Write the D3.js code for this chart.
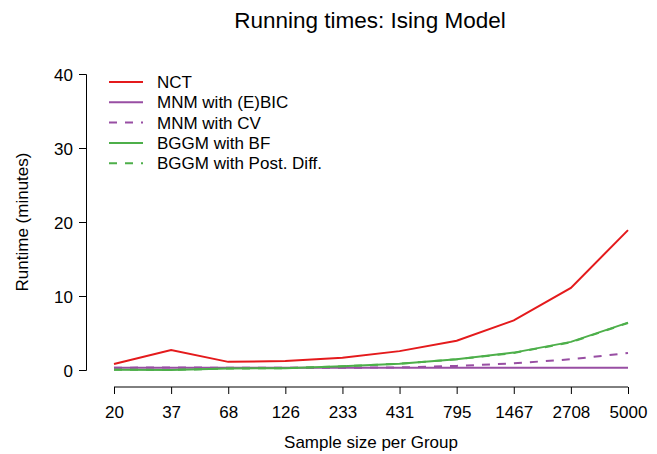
<!DOCTYPE html>
<html>
<head>
<meta charset="utf-8">
<script src="https://cdn.jsdelivr.net/npm/d3@7"></script>
<style>
  body { margin: 0; background: #fff; }
  text { font-family: "Liberation Sans", Arial, sans-serif; fill: #000; }
</style>
</head>
<body>
<div id="chart"></div>
<script>
// Data
var sampleSizes = ["20", "37", "68", "126", "233", "431", "795", "1467", "2708", "5000"];
var yTicks = [0, 10, 20, 30, 40];
var nct       = [0.8, 2.7, 1.1, 1.2, 1.65, 2.55, 3.95, 6.7, 11.1, 18.9];
var mnmEbic   = [0.3, 0.3, 0.3, 0.3, 0.3, 0.3, 0.3, 0.3, 0.3, 0.3];
var mnmCv     = [0.3, 0.35, 0.3, 0.3, 0.3, 0.35, 0.55, 0.9, 1.45, 2.3];
var bggmBf    = [0.05, 0.0, 0.2, 0.25, 0.5, 0.85, 1.45, 2.35, 3.8, 6.4];
var bggmPost  = [0.05, 0.0, 0.2, 0.25, 0.5, 0.85, 1.45, 2.3, 3.75, 6.35];

var seriesNames = ["NCT", "MNM with (E)BIC", "MNM with CV", "BGGM with BF", "BGGM with Post. Diff."];

var width = 657, height = 454;
var red = "#E41A1C", purple = "#984EA3", green = "#4DAF4A";

var series = [
  {name: seriesNames[0], values: nct, color: red, dash: null},
  {name: seriesNames[1], values: mnmEbic, color: purple, dash: null},
  {name: seriesNames[2], values: mnmCv, color: purple, dash: "8,8"},
  {name: seriesNames[3], values: bggmBf, color: green, dash: null},
  {name: seriesNames[4], values: bggmPost, color: green, dash: "8,8"}
];

var svg = d3.select("#chart").append("svg")
  .attr("width", width)
  .attr("height", height);

// Scales
var x = d3.scalePoint()
  .domain(sampleSizes)
  .range([114, 628]);

var y = d3.scaleLinear()
  .domain([0, 40])
  .range([370, 74]);

// Title
svg.append("text")
  .attr("x", 370)
  .attr("y", 28)
  .attr("text-anchor", "middle")
  .style("font-size", "22.5px")
  .text("Running times: Ising Model");

// Y axis
var yAxis = svg.append("g")
  .attr("transform", "translate(86,0)")
  .call(d3.axisLeft(y).tickValues(yTicks).tickSize(7).tickPadding(6));
yAxis.selectAll("text").style("font-size", "17px").attr("dy", "0.36em");

// X axis
var xAxis = svg.append("g")
  .attr("transform", "translate(0,387)")
  .call(d3.axisBottom(x).tickSize(7).tickPadding(12));
xAxis.select(".domain").attr("d", "M" + x("20") + ",0H" + x("5000"));
xAxis.selectAll("text").style("font-size", "17px");

svg.selectAll(".domain, .tick line").attr("stroke", "#000").attr("stroke-width", 1);

// Axis labels
svg.append("text")
  .attr("x", 371)
  .attr("y", 448)
  .attr("text-anchor", "middle")
  .style("font-size", "17px")
  .text("Sample size per Group");

svg.append("text")
  .attr("transform", "translate(28,222) rotate(-90)")
  .attr("text-anchor", "middle")
  .style("font-size", "17px")
  .text("Runtime (minutes)");

// Lines
var line = d3.line()
  .x(function(d, i) { return x(sampleSizes[i]); })
  .y(function(d) { return y(d); });

svg.selectAll(".series")
  .data(series)
  .enter()
  .append("path")
  .attr("class", "series")
  .attr("d", function(d) { return line(d.values); })
  .attr("fill", "none")
  .attr("stroke", function(d) { return d.color; })
  .attr("stroke-width", 2)
  .attr("stroke-dasharray", function(d) { return d.dash; });

// Legend
var legend = svg.append("g").attr("class", "legend");
var rows = legend.selectAll("g")
  .data(series)
  .enter()
  .append("g")
  .attr("transform", function(d, i) { return "translate(0," + (82 + i * 20.3) + ")"; });

rows.append("line")
  .attr("x1", 109)
  .attr("x2", 143)
  .attr("stroke", function(d) { return d.color; })
  .attr("stroke-width", 2)
  .attr("stroke-dasharray", function(d) { return d.dash; });

rows.append("text")
  .attr("x", 157)
  .attr("dy", "0.36em")
  .style("font-size", "17px")
  .text(function(d) { return d.name; });
</script>
</body>
</html>
